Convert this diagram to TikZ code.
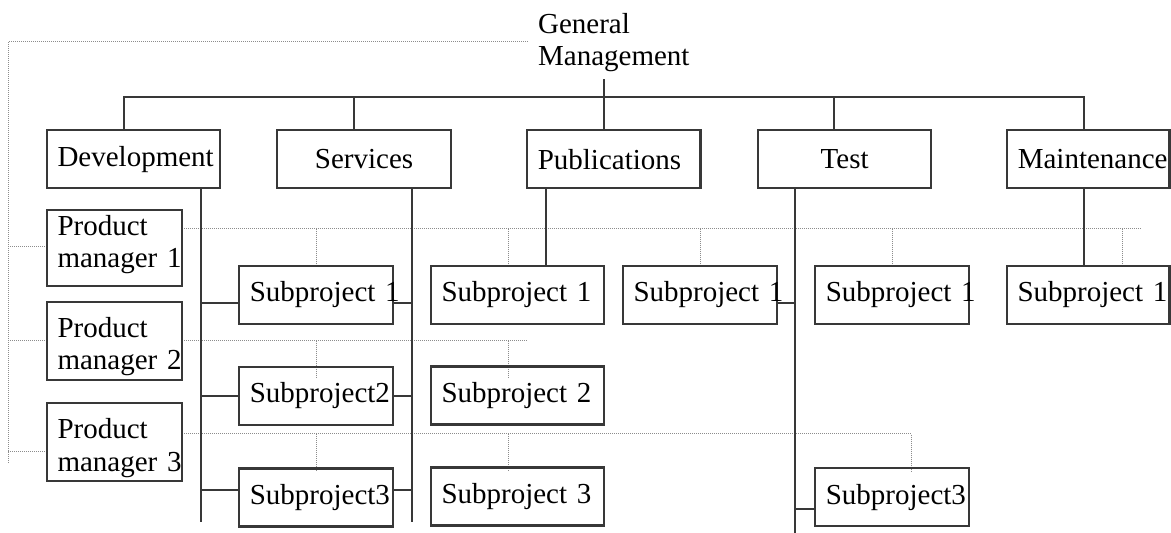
\documentclass[tikz,border=0pt]{standalone}
\usepackage{fontspec}
\setmainfont{Liberation Serif}
\usetikzlibrary{backgrounds}
\definecolor{ink}{HTML}{383838}
\definecolor{dotc}{HTML}{8C8C8C}
\newcommand\orgfont{\fontsize{14.5pt}{16.35pt}\selectfont}
\begin{document}
\begin{tikzpicture}[x=0.5pt,y=-0.5pt,
  box/.style={draw=ink, line width=1.05pt, anchor=north west, inner xsep=5.4pt,
    inner ysep=0pt, outer sep=0pt, align=left, font=\orgfont},
  topbox/.style={box, text width=75.95pt, minimum height=29.15pt},
  pmbox/.style={box, text width=57pt},
  subbox/.style={box, text width=66.2pt, minimum height=29pt},
  widesub/.style={box, text width=76pt, minimum height=29pt},
  link/.style={draw=ink, line width=1pt, line join=miter},
  guide/.style={draw=dotc, line width=0.5pt, dash pattern=on 0.5pt off 0.5pt}]
\useasboundingbox (0,0) rectangle (1171,533);

% head of the organisation
\node[font=\orgfont, align=left, inner xsep=0pt, inner ysep=3.5pt, anchor=north west]
  (gm) at (537.7,5.5) {General\\Management};

% departments
\node[topbox] (dev) at (46.7,130) {Development};
\node[topbox, align=center] (serv) at (277.3,130) {Services};
\node[topbox] (pub) at (527,130) {Publications};
\node[topbox, align=center] (test) at (757.9,130) {Test};
\node[topbox, text width=70.45pt] (maint) at (1007,130) {Maintenance};

% product managers
\node[pmbox, minimum height=38.15pt] (pm1) at (46.7,210)
  {Product\\manager~1\rule[-6.7pt]{0pt}{6.7pt}};
\node[pmbox, minimum height=38.85pt] (pm2) at (46.7,302)
  {\rule{0pt}{15.7pt}Product\\manager~2};
\node[pmbox, minimum height=39.15pt] (pm3) at (46.7,403)
  {\rule{0pt}{15.7pt}Product\\manager~3};

% subprojects
\node[subbox] (s21) at (239,266) {Subproject~1};
\node[subbox] (s22) at (239,367) {Subproject2};
\node[subbox] (s23) at (239,468.5) {Subproject3};
\node[widesub] (s31) at (430.7,265.7) {Subproject~1};
\node[widesub] (s32) at (430.7,366.5) {Subproject~2};
\node[widesub] (s33) at (430.7,467.5) {Subproject~3};
\node[subbox] (s41) at (622.7,265.7) {Subproject~1};
\node[subbox] (s51) at (815,265.7) {Subproject~1};
\node[subbox] (s53) at (815,468.3) {Subproject3};
\node[box, text width=70.6pt, minimum height=29pt] (s61) at (1006.7,265.7) {Subproject~1};

% helper coordinates
\coordinate (barL) at (124,97.3);
\coordinate (barR) at (1084,97.3);
\coordinate (tapS) at (354.3,97.3);
\coordinate (tapT) at (834.3,97.3);
\coordinate (tapP) at (604,0);
\coordinate (devsp) at (201,522.3);
\coordinate (servsp) at (412.3,522.3);
\coordinate (pubsp) at (546.3,0);
\coordinate (testsp) at (795.3,533);
\coordinate (ta) at (0,303);
\coordinate (tb) at (0,396.3);
\coordinate (tc) at (0,489.7);
\coordinate (td) at (0,508.7);
\coordinate (gTL) at (8.3,41.7);
\coordinate (gTR) at (527.7,41.7);
\coordinate (gBL) at (8.3,463);
\coordinate (g1) at (0,246.7);
\coordinate (g3) at (0,452);
\coordinate (r1) at (1141,228.7);
\coordinate (r2) at (526.7,340.7);
\coordinate (r3) at (911.7,434);
\coordinate (xa) at (316,0);
\coordinate (xb) at (508.3,0);
\coordinate (xc) at (700.7,0);
\coordinate (xd) at (892.3,0);
\coordinate (xe) at (1122.3,0);

% dotted reporting lines of the product managers
\begin{scope}[on background layer]
\draw[guide] (gTR) -- (gTL) -- (gBL);
\draw[guide] (gTL |- g1) -- (pm1.west |- g1);
\draw[guide] (gTL |- pm2.west) -- (pm2.west);
\draw[guide] (gTL |- g3) -- (pm3.west |- g3);
\draw[guide] (pm1.east |- r1) -- (r1);
\draw[guide] (pm2.east |- r2) -- (r2);
\draw[guide] (pm3.east |- r3) -- (r3) -- ++(0,37.3);
\draw[guide] (xa |- r1) -- (s21.north -| xa);
\draw[guide] (xb |- r1) -- (s31.north -| xb);
\draw[guide] (xc |- r1) -- (s41.north -| xc);
\draw[guide] (xd |- r1) -- (s51.north -| xd);
\draw[guide] (xe |- r1) -- (s61.north -| xe);
\draw[guide] (xa |- r2) -- ++(0,37.3);
\draw[guide] (xb |- r2) -- ++(0,37.3);
\draw[guide] (xa |- r3) -- ++(0,37.3);
\draw[guide] (xb |- r3) -- ++(0,37.3);
\end{scope}

% line management
\draw[link] (dev.north -| barL) -- (barL) -- (barR) -- (maint.north -| barR);
\draw[link] (tapS) -- (serv.north -| tapS);
\draw[link] (tapT) -- (test.north -| tapT);
\draw[link] (gm.south -| tapP) -- (pub.north -| tapP);

\draw[link] (dev.south -| devsp) -- (devsp);
\draw[link] (serv.south -| servsp) -- (servsp);
\draw[link] (pub.south -| pubsp) -- (s31.north -| pubsp);
\draw[link] (test.south -| testsp) -- (testsp);
\draw[link] (maint.south -| barR) -- (s61.north -| barR);

\draw[link] (devsp |- ta) -- (s21.west |- ta);
\draw[link] (devsp |- tb) -- (s22.west |- tb);
\draw[link] (devsp |- tc) -- (s23.west |- tc);
\draw[link] (s21.east |- ta) -- (servsp |- ta);
\draw[link] (s22.east |- tb) -- (servsp |- tb);
\draw[link] (s23.east |- tc) -- (servsp |- tc);
\draw[link] (s41.east |- ta) -- (testsp |- ta);
\draw[link] (testsp |- td) -- (s53.west |- td);
\end{tikzpicture}
\end{document}
